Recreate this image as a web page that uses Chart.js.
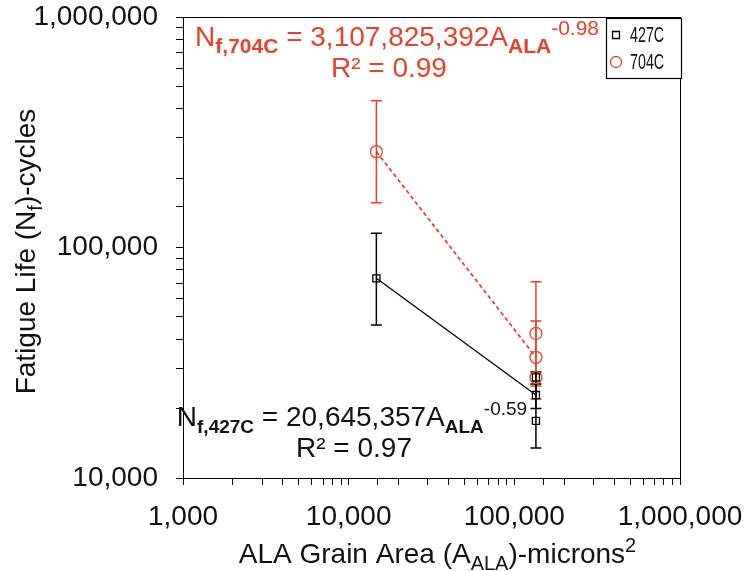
<!DOCTYPE html>
<html>
<head>
<meta charset="utf-8">
<script src="https://cdn.jsdelivr.net/npm/chart.js@4.4.0/dist/chart.umd.min.js"></script>
<style>
html,body{margin:0;padding:0;background:#fff;}
canvas{display:block;}
</style>
</head>
<body>
<canvas id="fatigue" width="746" height="571"></canvas>
<script>
/* ---------- data ---------- */
const series = ['427C', '704C'];

const area427 = [14700, 135000, 135000, 135000];
const life427 = [73500, 27300, 22900, 17700];
const area704 = [14700, 135000, 135000, 135000];
const life704 = [260400, 42400, 33400, 27300];

// fit lines through the mean values
const fitArea427 = [14700, 135000];
const fitLife427 = [73500, 22900];
const fitArea704 = [14700, 135000];
const fitLife704 = [260400, 33400];

// error bars (low / high)
const errArea427 = [14700, 135000, 135000];
const errLow427  = [46100, 13500, 20000];
const errHigh427 = [115300, 28800, 25600];
const errArea704 = [14700, 135000, 135000];
const errLow704  = [156400, 22000, 25100];
const errHigh704 = [433500, 71000, 48000];

const xTickValues = [1000, 10000, 100000, 1000000];
const xTickLabels = ['1,000', '10,000', '100,000', '1,000,000'];
const yTickValues = [10000, 100000, 1000000];
const yTickLabels = ['10,000', '100,000', '1,000,000'];

/* ---------- styling ---------- */
const FONT = '"Liberation Sans", Arial, sans-serif';
const RED = '#E8402B';
const INK = '#111';

// equation labels, anchored in data units
const notes = [
  {color: RED, x: 19600, y: 748000, size: 28, sub: 0.75, segs: [{t:'N'},{t:'f,704C',k:'sub'},{t:' = 3,107,825,392A'},{t:'ALA',k:'sub'},{t:'-0.98',k:'sup'}]},
  {color: RED, x: 17500, y: 549000, size: 28, sub: 0.7, segs: [{t:'R² = 0.99'}]},
  {color: INK, x: 10470, y: 16810, size: 28, sub: 0.68, segs: [{t:'N'},{t:'f,427C',k:'sub'},{t:' = 20,645,357A'},{t:'ALA',k:'sub'},{t:'-0.59',k:'sup'}]},
  {color: INK, x: 10770, y: 12330, size: 28, sub: 0.7, segs: [{t:'R² = 0.97'}]}
];

function segFont(k, size, ratio, subBold) {
  const s = Math.round(size * ratio);
  if (k === 'sub') return (subBold === false ? '' : 'bold ') + s + 'px ' + FONT;
  if (k === 'sup') return s + 'px ' + FONT;
  return size + 'px ' + FONT;
}
function segShift(k, size) {
  if (k === 'sub') return size * 0.25;
  if (k === 'sup') return -size * 0.4;
  return 0;
}
function drawRich(ctx, segs, cx, base, size, color, ratio, subBold) {
  ctx.fillStyle = color;
  ctx.textAlign = 'left';
  ctx.textBaseline = 'alphabetic';
  let w = 0;
  segs.forEach(s => { ctx.font = segFont(s.k, size, ratio, subBold); w += ctx.measureText(s.t).width; });
  let x = cx - w / 2;
  segs.forEach(s => {
    ctx.font = segFont(s.k, size, ratio, subBold);
    ctx.fillText(s.t, x, base + segShift(s.k, size));
    x += ctx.measureText(s.t).width;
  });
}

function toPairs(xs, ys) { return xs.map((x, i) => ({x: x, y: ys[i]})); }

function tickLabel(values, labels) {
  return function (v) {
    const i = values.findIndex(t => Math.abs(Math.log10(t) - Math.log10(v)) < 1e-9);
    return i >= 0 ? labels[i] : '';
  };
}

/* ---------- plugins ---------- */
const errorBars = {
  id: 'errorBars',
  beforeDatasetsDraw(chart) {
    const ctx = chart.ctx, xs = chart.scales.x, ys = chart.scales.y;
    const sets = [
      [errArea704, errLow704, errHigh704, RED],
      [errArea427, errLow427, errHigh427, '#000']
    ];
    ctx.save();
    ctx.lineWidth = 1.5;
    sets.forEach(([ax, lo, hi, col]) => {
      ctx.strokeStyle = col;
      ax.forEach((a, i) => {
        const px = xs.getPixelForValue(a);
        const y1 = ys.getPixelForValue(lo[i]);
        const y2 = ys.getPixelForValue(hi[i]);
        ctx.beginPath();
        ctx.moveTo(px, y1); ctx.lineTo(px, y2);
        ctx.moveTo(px - 5.5, y1); ctx.lineTo(px + 5.5, y1);
        ctx.moveTo(px - 5.5, y2); ctx.lineTo(px + 5.5, y2);
        ctx.stroke();
      });
    });
    ctx.restore();
  }
};

const decorations = {
  id: 'decorations',
  afterDraw(chart) {
    const ctx = chart.ctx, a = chart.chartArea;
    const xs = chart.scales.x, ys = chart.scales.y;
    ctx.save();
    // frame
    ctx.strokeStyle = '#000';
    ctx.lineWidth = 1;
    ctx.strokeRect(a.left + 0.5, a.top + 0.5, a.right - a.left, a.bottom - a.top);

    // equations
    notes.forEach(n => {
      drawRich(ctx, n.segs, xs.getPixelForValue(n.x), ys.getPixelForValue(n.y), n.size, n.color, n.sub);
    });

    // axis titles
    drawRich(ctx, [{t:'ALA Grain Area (A'},{t:'ALA',k:'sub'},{t:')-microns'},{t:'2',k:'sup'}],
      (a.left + a.right) / 2 + 6, 563, 28, INK, 0.7, false);
    ctx.save();
    ctx.translate(35, (a.top + a.bottom) / 2 + 4);
    ctx.rotate(-Math.PI / 2);
    drawRich(ctx, [{t:'Fatigue Life (N'},{t:'f',k:'sub'},{t:')-cycles'}], 0, 0, 28, INK, 0.7, false);
    ctx.restore();

    // legend box
    const bx = 606, by = a.top + 1, bw = a.right - bx + 1, bh = 60;
    ctx.fillStyle = '#fff';
    ctx.fillRect(bx, by, bw, bh);
    ctx.strokeStyle = '#000';
    ctx.lineWidth = 1.2;
    ctx.strokeRect(bx + 0.5, by + 0.5, bw, bh);
    const rows = [by + 17, by + 44];
    chart.data.datasets.filter(d => d.inLegend).forEach((d, i) => {
      const cy = rows[i];
      ctx.strokeStyle = d.borderColor;
      ctx.lineWidth = 1.3;
      ctx.beginPath();
      if (d.pointStyle === 'rect') ctx.rect(612.5, cy - 3.5, 7, 7);
      else ctx.arc(616, cy, 5.5, 0, Math.PI * 2);
      ctx.stroke();
      ctx.save();
      ctx.translate(630, cy);
      ctx.scale(0.65, 1);
      ctx.fillStyle = INK;
      ctx.font = '22px ' + FONT;
      ctx.textBaseline = 'middle';
      ctx.textAlign = 'left';
      ctx.fillText(d.label, 0, 1);
      ctx.restore();
    });
    ctx.restore();
  }
};

/* ---------- chart ---------- */
const axisTicks = {
  drawOnChartArea: false,
  drawTicks: true,
  tickLength: 7,
  color: '#000',
  lineWidth: 1
};

new Chart(document.getElementById('fatigue'), {
  type: 'scatter',
  data: {
    datasets: [
      {label: series[0], data: toPairs(area427, life427), inLegend: true, pointStyle: 'rect',
       pointRadius: 5, borderColor: '#000', backgroundColor: 'transparent', borderWidth: 1.3, order: 1},
      {label: series[1], data: toPairs(area704, life704), inLegend: true, pointStyle: 'circle',
       pointRadius: 6, borderColor: RED, backgroundColor: 'transparent', borderWidth: 1.3, order: 1},
      {label: 'fit427', data: toPairs(fitArea427, fitLife427), showLine: true, pointRadius: 0,
       borderColor: '#000', borderWidth: 1.3, order: 2},
      {label: 'fit704', data: toPairs(fitArea704, fitLife704), showLine: true, pointRadius: 0,
       borderColor: RED, borderWidth: 1.8, borderDash: [4, 3], order: 2}
    ]
  },
  options: {
    responsive: false,
    animation: false,
    layout: {padding: {top: 17, right: 66, left: 0, bottom: 0}},
    plugins: {legend: {display: false}, tooltip: {enabled: false}},
    scales: {
      x: {
        type: 'logarithmic', min: 1000, max: 1000000,
        grid: axisTicks,
        border: {display: true, color: '#000', width: 1},
        ticks: {callback: tickLabel(xTickValues, xTickLabels), autoSkip: false, maxRotation: 0,
                padding: 15, color: INK, font: {family: FONT, size: 28}},
        afterFit(s) { s.height = 93; s.paddingLeft = 0; s.paddingRight = 0; }
      },
      y: {
        type: 'logarithmic', min: 10000, max: 1000000,
        grid: axisTicks,
        border: {display: true, color: '#000', width: 1},
        ticks: {callback: tickLabel(yTickValues, yTickLabels), autoSkip: false,
                padding: 18, color: INK, font: {family: FONT, size: 28}},
        afterFit(s) { s.width = 183; s.paddingTop = 0; s.paddingBottom = 0; }
      }
    }
  },
  plugins: [errorBars, decorations]
});
</script>
</body>
</html>
